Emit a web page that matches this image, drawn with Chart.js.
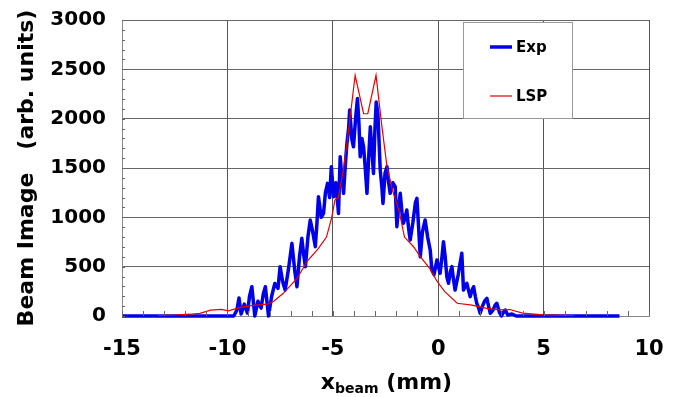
<html>
<script src="https://cdn.jsdelivr.net/npm/chart.js@4.4.0/dist/chart.umd.min.js"></script>
<body style="margin:0; background:#fff;">
    <canvas id="myChart" width="677" height="397"></canvas>
</body>
<script>
    // measured beam profile (noisy)
    var expX = [-15, -10, -9.7, -9.55, -9.45, -9.35, -9.2, -9.05, -8.95, -8.84, -8.7, -8.55, -8.4, -8.3, -8.2, -8.05,
        -7.9, -7.75, -7.6, -7.5, -7.38, -7.26, -7.1, -6.94, -6.8, -6.7, -6.58, -6.47, -6.38, -6.3, -6.18, -6.07,
        -5.95, -5.83, -5.75, -5.68, -5.55, -5.44, -5.35, -5.25, -5.15, -5.07, -4.96, -4.85, -4.73, -4.65, -4.57,
        -4.49, -4.4, -4.33, -4.25, -4.2, -4.09, -4.02, -3.92, -3.83, -3.76, -3.7, -3.62, -3.54, -3.46, -3.38,
        -3.3, -3.22, -3.15, -3.07, -3.0, -2.94, -2.86, -2.75, -2.67, -2.62, -2.52, -2.43, -2.35, -2.28, -2.15,
        -2.04, -1.96, -1.88, -1.8, -1.72, -1.65, -1.57, -1.49, -1.41, -1.33, -1.2, -1.08, -1.01, -0.93, -0.85,
        -0.75, -0.62, -0.5, -0.38, -0.3, -0.2, -0.06, 0.09, 0.18, 0.25, 0.33, 0.41, 0.49, 0.58, 0.65, 0.72, 0.8,
        0.95, 1.05, 1.12, 1.2, 1.28, 1.36, 1.45, 1.52, 1.6, 1.68, 1.76, 1.83, 1.92, 1.99, 2.1, 2.2, 2.31, 2.4,
        2.47, 2.6, 2.7, 2.78, 2.9, 3.0, 3.1, 3.18, 3.3, 3.5, 3.7, 8.6];
    var expY = [0, 0, 0, 60, 182, 20, 120, 30, 200, 297, 0, 150, 80, 220, 297, 0,
        200, 330, 280, 500, 350, 263, 480, 736, 450, 297, 600, 787, 620, 500, 800, 973,
        850, 702, 950, 1209, 1000, 1040, 1250, 1344, 1200, 1513, 1209, 1350, 1040, 1614, 1400,
        1243, 1550, 1749, 1900, 2087, 1783, 1715, 2000, 2204, 1950, 1614, 1800, 1715, 1500, 1243,
        1600, 1918, 1700, 1445, 1900, 2170, 2050, 1479, 1300, 1141, 1450, 1513, 1350, 1243, 1350,
        1310, 905, 1100, 1243, 1050, 939, 1000, 1074, 900, 770, 950, 1150, 1192, 900, 600,
        850, 973, 800, 669, 466, 420, 567, 432, 600, 753, 601, 398, 331, 450, 500, 380, 263,
        420, 550, 635, 263, 300, 331, 250, 196, 260, 297, 200, 129, 80, 27, 100, 150, 179, 90,
        27, 60, 110, 129, 40, 0, 40, 61, 10, 20, 0, 0];

    // LSP simulation
    var lspX = [-13.3, -12.5, -11.8, -11.3, -10.8, -10.3, -9.95, -9.4, -8.8, -8.1, -7.8, -7.35, -6.7, -6.2,
        -5.7, -5.3, -5.05, -4.9, -4.74, -4.5, -4.27, -3.94, -3.54, -3.34, -2.95, -2.67, -2.43, -2.15, -1.85,
        -1.6, -1.17, -0.85, -0.4, -0.05, 0.3, 0.9, 1.6, 2.3, 2.9, 3.4, 4.0, 5.0, 6.4];
    var lspY = [5, 10, 18, 27, 60, 68, 52, 88, 108, 120, 150, 230, 380, 560,
        680, 800, 1000, 1175, 1200, 1480, 1850, 2440, 2050, 2050, 2440, 1920, 1513, 1260, 1060,
        800, 702, 601, 480, 350, 250, 129, 111, 78, 62, 66, 30, 12, 3];

    var font = "'DejaVu Sans', Verdana, sans-serif";

    function pts(xs, ys) {
        return xs.map(function (x, i) { return { x: x, y: ys[i] }; });
    }

    // minor ticks + legend box + x title with subscript
    var extras = {
        id: "extras",
        afterDraw: function (chart) {
            var ctx = chart.ctx;
            var xs = chart.scales.x, ys = chart.scales.y;
            var a = chart.chartArea;
            ctx.save();
            ctx.strokeStyle = "#666";
            ctx.lineWidth = 1;
            ctx.beginPath();
            for (var v = -15; v <= 10; v++) {
                var px = Math.round(xs.getPixelForValue(v)) + 0.5;
                ctx.moveTo(px, a.bottom);
                ctx.lineTo(px, a.bottom - 5);
            }
            for (var w = 0; w <= 3000; w += 100) {
                var py = Math.round(ys.getPixelForValue(w)) + 0.5;
                ctx.moveTo(a.left, py);
                ctx.lineTo(a.left + 3, py);
            }
            ctx.stroke();

            // legend
            ctx.fillStyle = "#fff";
            ctx.fillRect(463, 22, 109, 96);
            ctx.strokeStyle = "#999";
            ctx.strokeRect(463.5, 22.5, 109, 96);
            var ds = chart.data.datasets;
            var rows = [47, 96];
            ctx.font = "bold 15px " + font;
            ctx.textBaseline = "middle";
            for (var i = 0; i < ds.length; i++) {
                ctx.strokeStyle = ds[i].borderColor;
                ctx.lineWidth = i == 0 ? 3.5 : 1.2;
                ctx.beginPath();
                ctx.moveTo(490, rows[i]);
                ctx.lineTo(512, rows[i]);
                ctx.stroke();
                ctx.fillStyle = "#000";
                ctx.fillText(ds[i].label, 516, rows[i] + 1);
            }

            // x axis title: x_beam (mm)
            ctx.fillStyle = "#000";
            ctx.textBaseline = "alphabetic";
            var big = "bold 22px " + font, small = "bold 14px " + font;
            ctx.font = big;
            var w1 = ctx.measureText("x").width, w3 = ctx.measureText(" (mm)").width;
            ctx.font = small;
            var w2 = ctx.measureText("beam").width;
            var x0 = (a.left + a.right) / 2 - (w1 + w2 + w3) / 2 + 1;
            var base = 389;
            ctx.font = big;
            ctx.fillText("x", x0, base);
            ctx.font = small;
            ctx.fillText("beam", x0 + w1, base + 4);
            ctx.font = big;
            ctx.fillText(" (mm)", x0 + w1 + w2, base);
            ctx.restore();
        }
    };

    new Chart("myChart", {
        type: "line",
        data: {
            datasets: [
                {
                    label: "Exp",
                    data: pts(expX, expY),
                    borderColor: "rgb(0,0,235)",
                    borderWidth: 3.5,
                    borderJoinStyle: "round",
                    pointRadius: 0,
                    tension: 0,
                    fill: false,
                    order: 1,
                    clip: false
                },
                {
                    label: "LSP",
                    data: pts(lspX, lspY),
                    borderColor: "rgb(230,0,0)",
                    borderWidth: 1.2,
                    pointRadius: 0,
                    tension: 0,
                    fill: false,
                    order: 0
                }
            ]
        },
        options: {
            responsive: false,
            animation: false,
            devicePixelRatio: 1,
            layout: { padding: { left: 0, top: 20, right: 28, bottom: 0 } },
            plugins: {
                legend: { display: false },
                tooltip: { enabled: false }
            },
            scales: {
                x: {
                    type: "linear",
                    min: -15,
                    max: 10,
                    ticks: {
                        stepSize: 5,
                        color: "#000",
                        font: { family: font, size: 21, weight: "bold" },
                        padding: 21,
                        maxRotation: 0
                    },
                    grid: { color: "#555", drawTicks: false },
                    border: { color: "#888" },
                    afterFit: function (s) {
                        s.height = 81;
                        s.paddingLeft = 0;
                        s.paddingRight = 0;
                    }
                },
                y: {
                    min: 0,
                    max: 3000,
                    ticks: {
                        stepSize: 500,
                        color: "#000",
                        font: { family: font, size: 20, weight: "bold" },
                        padding: 16,
                        callback: function (v) { return String(v); }
                    },
                    grid: { color: "#666", drawTicks: false },
                    border: { color: "#888" },
                    title: {
                        display: true,
                        text: "Beam Image   (arb. units)",
                        color: "#000",
                        font: { family: font, size: 22, weight: "bold" },
                        padding: { top: 14, bottom: 0 }
                    },
                    afterFit: function (s) {
                        s.width = 122;
                        s.paddingTop = 0;
                        s.paddingBottom = 0;
                    }
                }
            }
        },
        plugins: [extras]
    });
</script>
</html>
